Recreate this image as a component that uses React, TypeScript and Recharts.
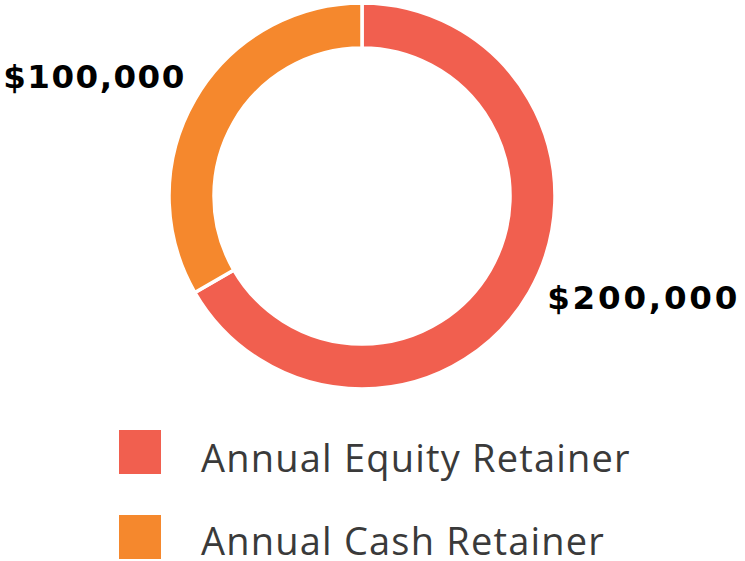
import React from 'react';
import { PieChart, Pie, Cell, Legend } from 'recharts';

const categories = ['Annual Equity Retainer', 'Annual Cash Retainer'];
const values = [200000, 100000];
const valueLabels = ['$200,000', '$100,000'];
const colors = ['#F15F4F', '#F5882D'];

const data = categories.map((name, i) => ({ name, value: values[i], label: valueLabels[i] }));

const RAD = Math.PI / 180;

const renderLabel = (props: any) => {
  const { cx, cy, midAngle, outerRadius, index } = props;
  const px = cx + outerRadius * Math.cos(-midAngle * RAD);
  const py = cy + outerRadius * Math.sin(-midAngle * RAD);
  const right = px > cx;
  const x = right ? px + 18 : px - 9;
  const y = right ? py + 16 : py - 12;
  return (
    <text
      x={x}
      y={y}
      textAnchor={right ? 'start' : 'end'}
      fill="#000"
      style={{
        fontFamily: 'DejaVu Sans',
        fontWeight: 700,
        fontSize: 32.5,
        letterSpacing: right ? 2.8 : 1.5,
      }}
    >
      {data[index].label}
    </text>
  );
};

const renderLegend = (props: any) => {
  const { payload } = props;
  const ordered = categories
    .map((c) => (payload || []).find((p: any) => p.value === c))
    .filter(Boolean);
  return (
    <div style={{ position: 'relative' }}>
      {ordered.map((entry: any, i: number) => (
        <div
          key={i}
          style={{ display: 'flex', alignItems: 'center', height: 44, marginBottom: i === 0 ? 41 : 0 }}
        >
          <div style={{ width: 42, height: 44, background: entry.color, flexShrink: 0 }} />
          <span
            style={{
              marginLeft: 40,
              position: 'relative',
              top: i === 0 ? 5 : 3,
              fontFamily: 'Open Sans',
              fontWeight: 400,
              fontSize: 38,
              letterSpacing: 1.2,
              color: '#3a3a3a',
              lineHeight: '38px',
              whiteSpace: 'nowrap',
            }}
          >
            {entry.value}
          </span>
        </div>
      ))}
    </div>
  );
};

export default function App() {
  return (
    <div style={{ position: 'absolute', left: 0, top: 0, width: 745, height: 561, background: '#fff' }}>
      <PieChart width={745} height={561} margin={{ top: 0, right: 0, bottom: 0, left: 0 }}>
        <Pie
          data={data}
          dataKey="value"
          nameKey="name"
          cx={362}
          cy={196}
          innerRadius={148}
          outerRadius={193}
          startAngle={90}
          endAngle={-270}
          stroke="#fff"
          strokeWidth={3.5}
          label={renderLabel}
          labelLine={false}
          isAnimationActive={false}
        >
          {data.map((d, i) => (
            <Cell key={d.name} fill={colors[i]} />
          ))}
        </Pie>
        <Legend
          content={renderLegend}
          wrapperStyle={{ position: 'absolute', left: 119, top: 430, width: 620, height: 130 }}
        />
      </PieChart>
    </div>
  );
}
